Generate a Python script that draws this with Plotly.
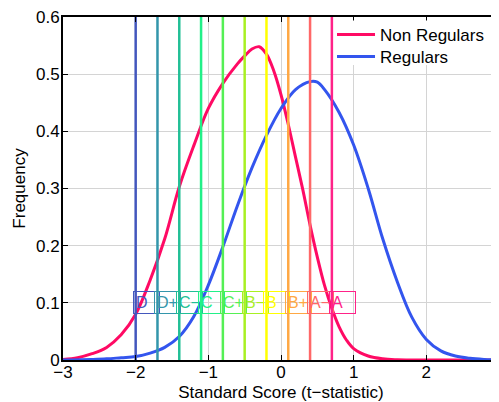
import plotly.graph_objects as go

# Non Regulars density
nonreg_x = [-3.0, -2.8, -2.6, -2.4, -2.2, -2.0, -1.8, -1.6, -1.4, -1.2, -1.0, -0.8, -0.6, -0.5, -0.4, -0.3, -0.2,
            -0.1, 0.0, 0.1, 0.2, 0.3, 0.4, 0.5, 0.6, 0.7, 0.8, 0.9, 1.0, 1.2, 1.4, 1.6, 2.0, 2.5, 3.0]
nonreg_y = [0.001, 0.004, 0.011, 0.022, 0.044, 0.080, 0.140, 0.212, 0.303, 0.375, 0.440, 0.484, 0.518, 0.532,
            0.544, 0.548, 0.535, 0.506, 0.464, 0.412, 0.355, 0.298, 0.236, 0.180, 0.130, 0.090, 0.058, 0.035,
            0.020, 0.007, 0.002, 0.0005, 0.0, 0.0, 0.0]

# Regulars density
reg_x = [-3.0, -2.6, -2.4, -2.2, -2.0, -1.8, -1.6, -1.4, -1.2, -1.0, -0.8, -0.6, -0.4, -0.2, 0.0, 0.2, 0.4,
         0.5, 0.6, 0.8, 1.0, 1.2, 1.4, 1.6, 1.8, 2.0, 2.2, 2.4, 2.6, 2.8, 3.0]
reg_y = [0.0, 0.001, 0.002, 0.004, 0.006, 0.012, 0.022, 0.041, 0.076, 0.131, 0.198, 0.270, 0.336, 0.393,
         0.440, 0.473, 0.487, 0.486, 0.473, 0.433, 0.376, 0.300, 0.212, 0.137, 0.075, 0.036, 0.016, 0.007,
         0.003, 0.001, 0.0]

# Grade boundaries
grades = ["D", "D+", "C\u2212", "C", "C+", "B\u2212", "B", "B+", "A\u2212", "A"]
grade_pos = [-2.0, -1.7, -1.4, -1.1, -0.8, -0.5, -0.2, 0.1, 0.4, 0.7]
grade_colors = ["#4357bd", "#3396ab", "#22bf96", "#22f088", "#55f055", "#a8f022", "#ffff00",
                "#ffa844", "#ff6868", "#ff2288"]
label_y = 0.1

x_ticks = [-3, -2, -1, 0, 1, 2, 3]
y_ticks = [0, 0.1, 0.2, 0.3, 0.4, 0.5, 0.6]
y_ticktext = ["0", "0.1", "0.2", "0.3", "0.4", "0.5", "0.6"]

FONT = "Liberation Sans, Arial, Helvetica, sans-serif"

fig = go.Figure()
fig.add_trace(go.Scatter(x=nonreg_x, y=nonreg_y, mode="lines", name="Non Regulars", legend="legend",
                         line=dict(color="#ff0a64", width=3, shape="spline", smoothing=1.0)))
fig.add_trace(go.Scatter(x=reg_x, y=reg_y, mode="lines", name="Regulars", legend="legend2",
                         line=dict(color="#3355ee", width=3, shape="spline", smoothing=1.0)))

for g, p, c in zip(grades, grade_pos, grade_colors):
    fig.add_trace(go.Scatter(x=[p, p], y=[y_ticks[0], y_ticks[-1]], mode="lines", showlegend=False,
                             hoverinfo="skip", line=dict(color=c, width=2.5)))
    fig.add_annotation(x=p, y=label_y, text=g, showarrow=False, xanchor="left", yanchor="middle",
                       xshift=-3, width=21, align="left", font=dict(family=FONT, size=16, color=c),
                       bordercolor=c, borderwidth=1, borderpad=2, bgcolor="rgba(0,0,0,0)")

# white legend background panel
fig.add_shape(type="rect", xref="paper", yref="paper", x0=0.625, x1=0.99, y0=0.86, y1=0.99,
              fillcolor="white", line=dict(width=0), layer="above")

axis_common = dict(showgrid=True, gridcolor="#d4d4d4", gridwidth=1, zeroline=False,
                   showline=True, linecolor="black", linewidth=2, mirror="ticks",
                   ticks="inside", ticklen=5, tickcolor="black", tickwidth=1,
                   ticklabeloverflow="allow",
                   tickfont=dict(family=FONT, size=17, color="black"), automargin=False)

legend_common = dict(xanchor="left", yanchor="top", bgcolor="rgba(0,0,0,0)", borderwidth=0,
                     font=dict(family=FONT, size=17, color="black"), itemwidth=38)

fig.update_layout(
    width=491, height=394,
    margin=dict(l=55, r=0, t=9, b=42),
    paper_bgcolor="white", plot_bgcolor="white",
    font=dict(family=FONT, size=17, color="black"),
    xaxis=dict(range=[-3, 3], tickvals=x_ticks, ticklabelstandoff=-4,
               title=dict(text="Standard Score (t\u2212statistic)", font=dict(family=FONT, size=17), standoff=8),
               **axis_common),
    yaxis=dict(range=[0, 0.6], tickvals=y_ticks, ticktext=y_ticktext, ticklabelstandoff=-2,
               title=dict(text="Frequency", font=dict(family=FONT, size=17), standoff=6),
               **axis_common),
    legend=dict(x=0.617, y=1.0, **legend_common),
    legend2=dict(x=0.617, y=0.936, **legend_common),
    showlegend=True,
)

fig.write_html("out.html")
